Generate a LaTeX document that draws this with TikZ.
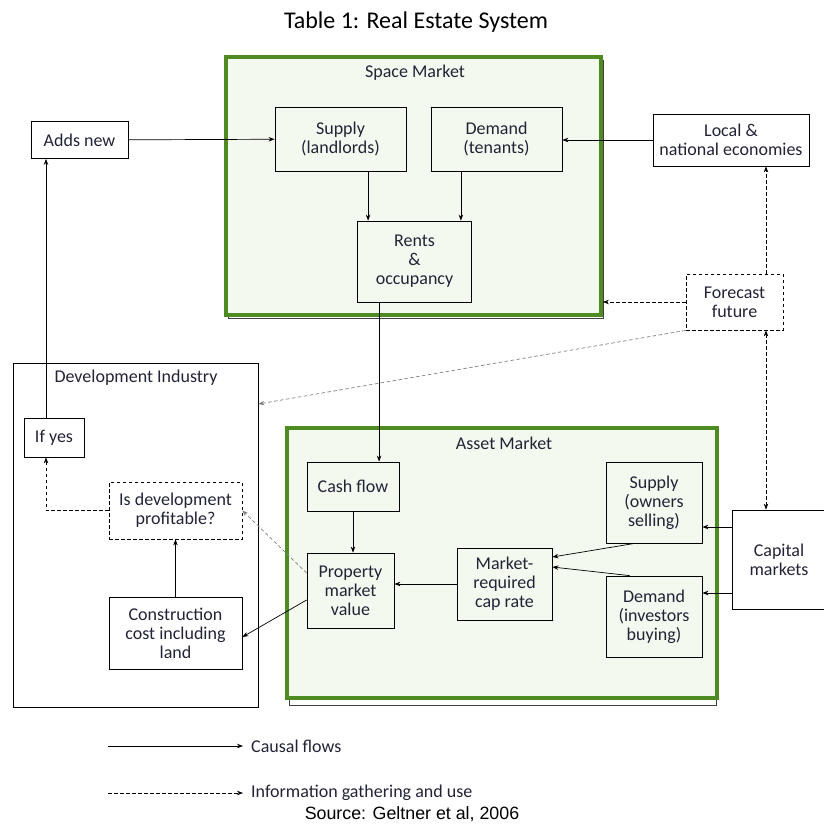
\documentclass[tikz,border=0pt]{standalone}
\usepackage{fontspec}
\setmainfont{Carlito}
\newfontfamily\quellfont{Liberation Sans}
\usetikzlibrary{arrows.meta}
\definecolor{marktgruen}{RGB}{78,140,35}
\definecolor{markthell}{RGB}{244,249,239}
\definecolor{schrift}{RGB}{35,35,55}

\tikzset{
    spitze/.tip={Stealth[length=6pt, width=4.5pt]},
    kasten/.style={draw, line width=0.8pt, align=center, inner sep=1pt, text=schrift, font=\fontsize{18}{19}\selectfont},
    beschrift/.style={align=center, inner sep=1pt, text=schrift, font=\fontsize{18}{19}\selectfont},
    markt/.style={draw=marktgruen, line width=3.8pt, fill=markthell},
    schatten/.style={draw=black!75, line width=0.8pt},
    pfeil/.style={-spitze, line width=0.7pt},
    info/.style={pfeil, dash pattern=on 3.5pt off 2.5pt},
    infodoppel/.style={info, spitze-spitze},
    grauinfo/.style={info, draw=gray}
}

\begin{document}
\begin{tikzpicture}[x=1pt, y=-1pt]
    \useasboundingbox (0,0) rectangle (823,828);
    % Rahmen hinter den Maerkten
    \draw[schatten] (228,60) rectangle (603,318);
    \draw[schatten] (289,431) rectangle (716,705);
    \path node[markt, minimum width=375pt, minimum height=258pt] (space) at (413.5,186) {}
        node[markt, minimum width=430pt, minimum height=270pt] (asset) at (502,563) {}
        node[draw, line width=0.8pt, minimum width=245pt, minimum height=344pt] (dev) at (135.5,535) {}
        node[beschrift] (spacetitel) at (415,73) {Space Market}
        node[beschrift] (assettitel) at (504,443) {Asset Market}
        node[beschrift] (devtitel) at (136,378) {Development Industry}
        node[kasten, minimum width=131pt, minimum height=64pt] (supplyL) at (340.5,139) {Supply\\(landlords)}
        node[kasten, minimum width=131pt, minimum height=64pt] (demandT) at (496.5,139) {Demand\\(tenants)}
        node[kasten, minimum width=114pt, minimum height=81pt] (rents) at (414.5,261.5) {Rents\\\&\\occupancy}
        node[kasten, minimum width=97pt, minimum height=37pt] (addsnew) at (79.5,140) {Adds new}
        node[kasten, minimum width=156pt, minimum height=52pt] (econ) at (731,140) {Local \&\\national economies}
        node[kasten, dash pattern=on 3.5pt off 2.5pt, minimum width=97pt, minimum height=56pt] (forecast) at (734.5,302) {Forecast\\future}
        node[kasten, minimum width=60pt, minimum height=39pt] (ifyes) at (54,437.5) {If yes}
        node[kasten, dash pattern=on 3.5pt off 2.5pt, minimum width=133pt, minimum height=57pt] (profit) at (175.5,510.5) {Is development\\profitable?}
        node[kasten, minimum width=133pt, minimum height=72pt] (construct) at (175.5,633) {Construction\\cost including\\land}
        node[kasten, minimum width=92pt, minimum height=49pt] (cashflow) at (353,486.5) {Cash flow}
        node[kasten, minimum width=87pt, minimum height=75pt] (propval) at (350.5,590.5) {Property\\market\\value}
        node[kasten, minimum width=95pt, minimum height=72pt] (caprate) at (504.5,584) {Market-\\required\\cap rate}
        node[kasten, minimum width=96pt, minimum height=81pt] (supplyO) at (654,502.5) {Supply\\(owners\\selling)}
        node[kasten, minimum width=96pt, minimum height=81pt] (demandI) at (654,616.5) {Demand\\(investors\\buying)}
        node[kasten, minimum width=94pt, minimum height=99pt] (capital) at (779,559.5) {Capital\\markets};
    % Raummarkt
    \draw[pfeil] (addsnew) -- (supplyL);
    \draw[pfeil] (econ.west) -- (econ.west -| demandT.east);
    \draw[pfeil] ([xshift=11pt]rents.north west |- supplyL.south) -- ([xshift=11pt]rents.north west);
    \draw[pfeil] ([xshift=-11pt]rents.north east |- demandT.south) -- ([xshift=-11pt]rents.north east);
    \draw[pfeil] ([xshift=22pt]rents.south west) -- ([xshift=22pt]rents.south west |- cashflow.north);
    % Kapitalmarkt
    \draw[pfeil] (cashflow.south) -- (cashflow.south |- propval.north);
    \draw[pfeil] (caprate.west) -- (caprate.west -| propval.east);
    \draw[pfeil] ([xshift=29pt]supplyO.south west) -- ([yshift=27pt]caprate.east);
    \draw[pfeil] ([xshift=24pt]demandI.north west) -- ([yshift=17pt]caprate.east);
    \draw[pfeil] ([yshift=32.5pt]capital.west) -- ([yshift=32.5pt]capital.west -| supplyO.east);
    \draw[pfeil] ([yshift=-33.5pt]capital.west) -- ([yshift=-33.5pt]capital.west -| demandI.east);
    % Entwicklung
    \draw[pfeil] ([xshift=-8pt]ifyes.north) -- ([xshift=-8pt]ifyes.north |- addsnew.south);
    \draw[pfeil] (construct) -- (profit);
    \draw[pfeil] ([yshift=-9.5pt]propval.west) -- ([yshift=-4pt]construct.east);
    \draw[info] (profit.west) -| ([xshift=-8pt]ifyes.south);
    \draw[grauinfo] ([yshift=17.5pt]propval.west) -- (profit.east);
    % Prognose
    \draw[info] ([xshift=31.5pt]forecast.north) -- ([xshift=31.5pt]forecast.north |- econ.south);
    \draw[info] (forecast.west) -- (forecast.west -| space.east);
    \draw[infodoppel] ([xshift=31.5pt]forecast.south) -- ([xshift=31.5pt]forecast.south |- capital.north);
    \draw[grauinfo] (forecast.south west) -- ([yshift=131pt]dev.east);
    % Legende
    \path node[font=\fontsize{24}{26}\selectfont] (titel) at (416,22) {Table 1: Real Estate System}
        coordinate (kausal) at (108,746)
        coordinate (information) at (108,793)
        node[beschrift, anchor=west, inner xsep=8pt] (kausaltext) at (243,746) {Causal flows}
        node[beschrift, anchor=west, inner xsep=8pt] (infotext) at (243,793) {Information gathering and use}
        node[font=\quellfont\fontsize{17.8}{20}\selectfont] (quelle) at (412,814) {Source: Geltner et al, 2006};
    \draw[pfeil] (kausal) -- (kausaltext.west);
    \draw[info] (information) -- (infotext.west);
\end{tikzpicture}
\end{document}
